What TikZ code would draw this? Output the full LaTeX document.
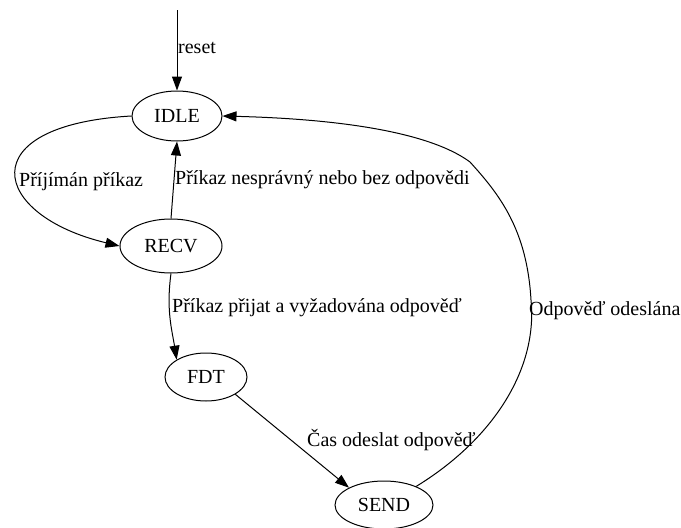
\documentclass[tikz,border=0pt]{standalone}
\usepackage{fontspec}
\setmainfont{Liberation Serif}
\usetikzlibrary{shapes.geometric,arrows.meta}
\begin{document}
\begin{tikzpicture}[x=1pt,y=-1pt,
  font=\fontsize{20}{24}\selectfont,
  state/.style={draw,ellipse,line width=1pt,inner sep=0pt},
  edge/.style={line width=1pt,-{Triangle[length=14pt,width=10pt]}},
  lbl/.style={inner sep=0pt,anchor=west}]
\useasboundingbox (0,0) rectangle (681,528);

% states
\node[state,minimum width=90pt,minimum height=50pt] (idle) at (177,116) {IDLE};
\node[state,minimum width=102pt,minimum height=54pt] (recv) at (171,246) {RECV};
\node[state,minimum width=82pt,minimum height=48pt] (fdt) at (206,377) {FDT};
\node[state,minimum width=98pt,minimum height=48pt] (send) at (384,505) {SEND};

% entry point
\coordinate (start) at (177,10);
\draw[edge] (start) -- (idle.north);
\node[lbl] (lreset) at (178,48) {reset};

% IDLE -> RECV
\draw[edge] (idle.west) .. controls (-30,125) and (-10,215) .. (recv.west);
\node[lbl] (lrecv) at (19,182) {Příjímán příkaz};

% RECV -> IDLE
\draw[edge] (recv.north) -- (idle.south);
\node[lbl] (lbad) at (175,180) {Příkaz nesprávný nebo bez odpovědi};

% RECV -> FDT
\draw[edge] (recv.south) .. controls (166,310) and (172,330) .. (fdt.north west);
\node[lbl] (lok) at (172,308) {Příkaz přijat a vyžadována odpověď};

% FDT -> SEND
\draw[edge] (fdt.south east) -- (send.north west);
\node[lbl] (ltime) at (307,440) {Čas odeslat odpověď};

% SEND -> IDLE
\draw[edge] (send.30) .. controls (492,440) and (538,370) .. (531,300)
  .. controls (527,230) and (500,195) .. (470,162)
  .. controls (420,125) and (300,118) .. (idle.east);
\node[lbl] (lsent) at (529,311) {Odpověď odeslána};
\end{tikzpicture}
\end{document}
